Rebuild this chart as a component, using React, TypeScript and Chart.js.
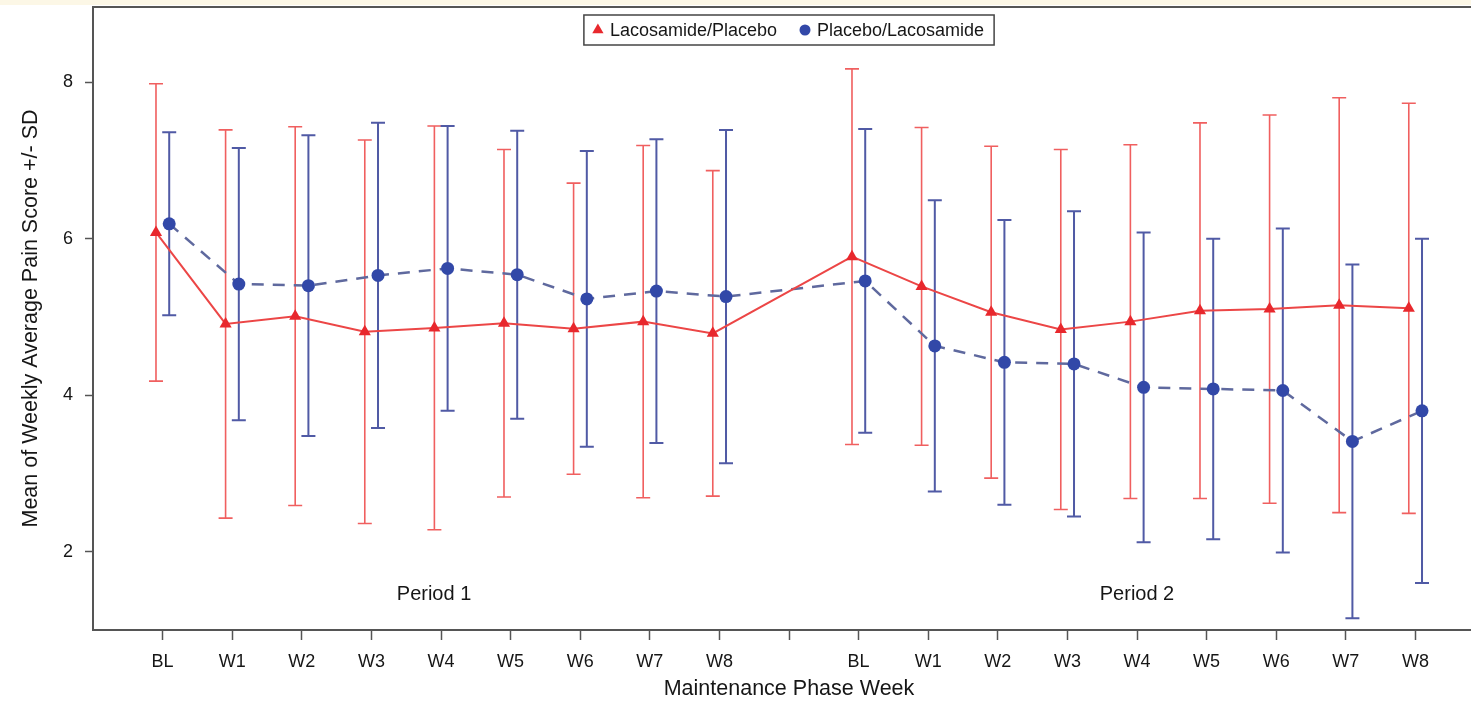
import React, { useEffect, useRef } from 'react';
import { Chart, registerables } from 'chart.js';

Chart.register(...registerables);

// Week labels for one maintenance period
const weekLabels = ['BL', 'W1', 'W2', 'W3', 'W4', 'W5', 'W6', 'W7', 'W8'];
// Axis slots: period 1 at 0–8, an empty separator slot at 9, period 2 at 10–18
const periodOneSlots = [0, 1, 2, 3, 4, 5, 6, 7, 8];
const periodTwoSlots = [10, 11, 12, 13, 14, 15, 16, 17, 18];
const axisTickLabels = [...weekLabels, '', ...weekLabels];
const yTickValues = [2, 4, 6, 8];

// Lacosamide/Placebo sequence: mean and SD (period 1 then period 2)
const lacosamidePlaceboMean = [6.08, 4.91, 5.01, 4.81, 4.86, 4.92, 4.85, 4.94, 4.79, 5.77, 5.39, 5.06, 4.84, 4.94, 5.08, 5.1, 5.15, 5.11];
const lacosamidePlaceboSD = [1.9, 2.48, 2.42, 2.45, 2.58, 2.22, 1.86, 2.25, 2.08, 2.4, 2.03, 2.12, 2.3, 2.26, 2.4, 2.48, 2.65, 2.62];

// Placebo/Lacosamide sequence: mean and SD (period 1 then period 2)
const placeboLacosamideMean = [6.19, 5.42, 5.4, 5.53, 5.62, 5.54, 5.23, 5.33, 5.26, 5.46, 4.63, 4.42, 4.4, 4.1, 4.08, 4.06, 3.41, 3.8];
const placeboLacosamideSD = [1.17, 1.74, 1.92, 1.95, 1.82, 1.84, 1.89, 1.94, 2.13, 1.94, 1.86, 1.82, 1.95, 1.98, 1.92, 2.07, 2.26, 2.2];

const periodLabels = ['Period 1', 'Period 2'];

const FONT = '"Liberation Sans", Arial, Helvetica, sans-serif';
const RED = 'rgb(232, 40, 45)';
const RED_LINE = 'rgb(236, 70, 70)';
const RED_BAR = 'rgb(240, 95, 95)';
const BLUE = 'rgb(50, 72, 168)';
const BLUE_LINE = 'rgb(95, 105, 158)';
const BLUE_BAR = 'rgb(80, 90, 165)';
const AXIS = '#555';
const TEXT = '#161616';
const GROUP_SHIFT = 0.095;

const slots = [...periodOneSlots, ...periodTwoSlots];
const toPoints = (means: number[], shift: number) =>
  means.map((m, i) => ({ x: slots[i] + shift, y: m }));

// Vertical mean ± SD whiskers with caps, drawn under the lines and markers
const errorBarPlugin = {
  id: 'errorBars',
  beforeDatasetsDraw(chart: any) {
    const { ctx, scales } = chart;
    const xs = scales.x;
    const ys = scales.y;
    chart.data.datasets.forEach((ds: any, di: number) => {
      if (!chart.isDatasetVisible(di)) return;
      ctx.save();
      ctx.strokeStyle = ds.errorBarColor;
      ctx.lineWidth = ds.errorBarWidth;
      const cap = 7;
      ds.data.forEach((p: any, i: number) => {
        const sd = ds.sd[i];
        const px = xs.getPixelForValue(p.x);
        const top = ys.getPixelForValue(p.y + sd);
        const bot = ys.getPixelForValue(p.y - sd);
        ctx.beginPath();
        ctx.moveTo(px, top);
        ctx.lineTo(px, bot);
        ctx.moveTo(px - cap, top);
        ctx.lineTo(px + cap, top);
        ctx.moveTo(px - cap, bot);
        ctx.lineTo(px + cap, bot);
        ctx.stroke();
      });
      ctx.restore();
    });
  },
};

// Page tint, plot frame, period captions and the boxed legend
const decorPlugin = {
  id: 'decor',
  beforeDraw(chart: any) {
    const { ctx, width, height } = chart;
    ctx.save();
    ctx.fillStyle = '#ffffff';
    ctx.fillRect(0, 0, width, height);
    ctx.fillStyle = '#fcf7e6';
    ctx.fillRect(0, 0, width, 5);
    ctx.restore();
  },
  afterDraw(chart: any) {
    const { ctx, chartArea, scales } = chart;
    ctx.save();
    ctx.strokeStyle = AXIS;
    ctx.lineWidth = 2;
    ctx.strokeRect(chartArea.left, chartArea.top, chartArea.right - chartArea.left, chartArea.bottom - chartArea.top);

    // period captions
    ctx.fillStyle = TEXT;
    ctx.font = `20px ${FONT}`;
    ctx.textAlign = 'center';
    ctx.textBaseline = 'middle';
    const captionX = [3.9, 14];
    periodLabels.forEach((t, i) => {
      ctx.fillText(t, scales.x.getPixelForValue(captionX[i]), scales.y.getPixelForValue(1.46));
    });

    // legend
    ctx.font = `18px ${FONT}`;
    const items = chart.data.datasets.map((ds: any) => ({
      label: ds.label,
      style: ds.pointStyle,
      color: ds.pointBackgroundColor,
      w: ctx.measureText(ds.label).width,
    }));
    const padL = 8, mark = 12, gap = 6, spacing = 22, padR = 10;
    let total = padL + padR;
    items.forEach((it: any, i: number) => {
      total += mark + gap + it.w + (i > 0 ? spacing : 0);
    });
    const cx = (chartArea.left + chartArea.right) / 2;
    const boxTop = chartArea.top + 8;
    const boxH = 30;
    const left = cx - total / 2;
    ctx.fillStyle = '#fff';
    ctx.fillRect(left, boxTop, total, boxH);
    ctx.strokeStyle = '#444';
    ctx.lineWidth = 1.5;
    ctx.strokeRect(left, boxTop, total, boxH);
    let x = left + padL;
    const midY = boxTop + boxH / 2;
    ctx.textAlign = 'left';
    items.forEach((it: any, i: number) => {
      if (i > 0) x += spacing;
      const mx = x + mark / 2;
      ctx.fillStyle = it.color;
      ctx.beginPath();
      if (it.style === 'triangle') {
        const r = 6.5;
        ctx.moveTo(mx, midY - r);
        ctx.lineTo(mx + r * 0.866, midY + r * 0.5);
        ctx.lineTo(mx - r * 0.866, midY + r * 0.5);
        ctx.closePath();
      } else {
        ctx.arc(mx, midY, 5.5, 0, Math.PI * 2);
      }
      ctx.fill();
      x += mark + gap;
      ctx.fillStyle = TEXT;
      ctx.fillText(it.label, x, midY + 1);
      x += it.w;
    });
    ctx.restore();
  },
};

export default function App() {
  const canvasRef = useRef<HTMLCanvasElement | null>(null);

  useEffect(() => {
    const canvas = canvasRef.current;
    if (!canvas) return;
    const chart = new Chart(canvas, {
      type: 'line',
      data: {
        datasets: [
          {
            label: 'Lacosamide/Placebo',
            data: toPoints(lacosamidePlaceboMean, -GROUP_SHIFT),
            sd: lacosamidePlaceboSD,
            errorBarColor: RED_BAR,
            errorBarWidth: 1.6,
            borderColor: RED_LINE,
            borderWidth: 2,
            pointStyle: 'triangle',
            pointRadius: 7,
            pointHoverRadius: 7,
            pointBackgroundColor: RED,
            pointBorderColor: RED,
            pointBorderWidth: 0,
            tension: 0,
            fill: false,
          } as any,
          {
            label: 'Placebo/Lacosamide',
            data: toPoints(placeboLacosamideMean, GROUP_SHIFT),
            sd: placeboLacosamideSD,
            errorBarColor: BLUE_BAR,
            errorBarWidth: 2,
            borderColor: BLUE_LINE,
            borderWidth: 2.5,
            borderDash: [12, 9],
            pointStyle: 'circle',
            pointRadius: 6.5,
            pointHoverRadius: 6.5,
            pointBackgroundColor: BLUE,
            pointBorderColor: BLUE,
            pointBorderWidth: 0,
            tension: 0,
            fill: false,
          } as any,
        ],
      },
      options: {
        responsive: false,
        animation: false,
        events: [],
        layout: { padding: { top: 7, right: 15, bottom: 0, left: 0 } },
        plugins: {
          legend: { display: false },
          tooltip: { enabled: false },
        },
        scales: {
          x: {
            type: 'linear',
            min: -1,
            max: 19,
            afterBuildTicks: (scale: any) => {
              scale.ticks = axisTickLabels.map((_, i) => ({ value: i }));
            },
            afterFit: (scale: any) => {
              scale.height = 77;
              scale.paddingLeft = 0;
              scale.paddingRight = 0;
            },
            ticks: {
              autoSkip: false,
              maxRotation: 0,
              padding: 11,
              color: TEXT,
              font: { family: FONT, size: 18 },
              callback: (v: any) => axisTickLabels[v] ?? '',
            },
            grid: { drawOnChartArea: false, drawTicks: true, tickLength: 10, color: AXIS, tickWidth: 1.5 },
            border: { color: AXIS, width: 2 },
            title: {
              display: true,
              text: 'Maintenance Phase Week',
              color: TEXT,
              font: { family: FONT, size: 21.5 },
              padding: { top: 0, bottom: 5 },
            },
          },
          y: {
            type: 'linear',
            min: 1.0,
            max: 8.96,
            afterBuildTicks: (scale: any) => {
              scale.ticks = yTickValues.map((v) => ({ value: v }));
            },
            afterFit: (scale: any) => {
              scale.width = 93;
              scale.paddingTop = 0;
              scale.paddingBottom = 0;
            },
            ticks: {
              padding: 12,
              color: TEXT,
              font: { family: FONT, size: 18 },
            },
            grid: { drawOnChartArea: false, drawTicks: true, tickLength: 8, color: AXIS, tickWidth: 1.5 },
            border: { color: AXIS, width: 2 },
            title: {
              display: true,
              text: 'Mean of Weekly Average Pain Score +/- SD',
              color: TEXT,
              font: { family: FONT, size: 21.5 },
              padding: { top: 18, bottom: 0 },
            },
          },
        },
      } as any,
      plugins: [errorBarPlugin, decorPlugin],
    });
    return () => chart.destroy();
  }, []);

  return (
    <div
      style={{
        position: 'fixed',
        left: 0,
        top: 0,
        width: 1471,
        height: 707,
        overflow: 'hidden',
        background: '#fff',
      }}
    >
      <canvas ref={canvasRef} width={1500} height={707} style={{ display: 'block' }} />
    </div>
  );
}
